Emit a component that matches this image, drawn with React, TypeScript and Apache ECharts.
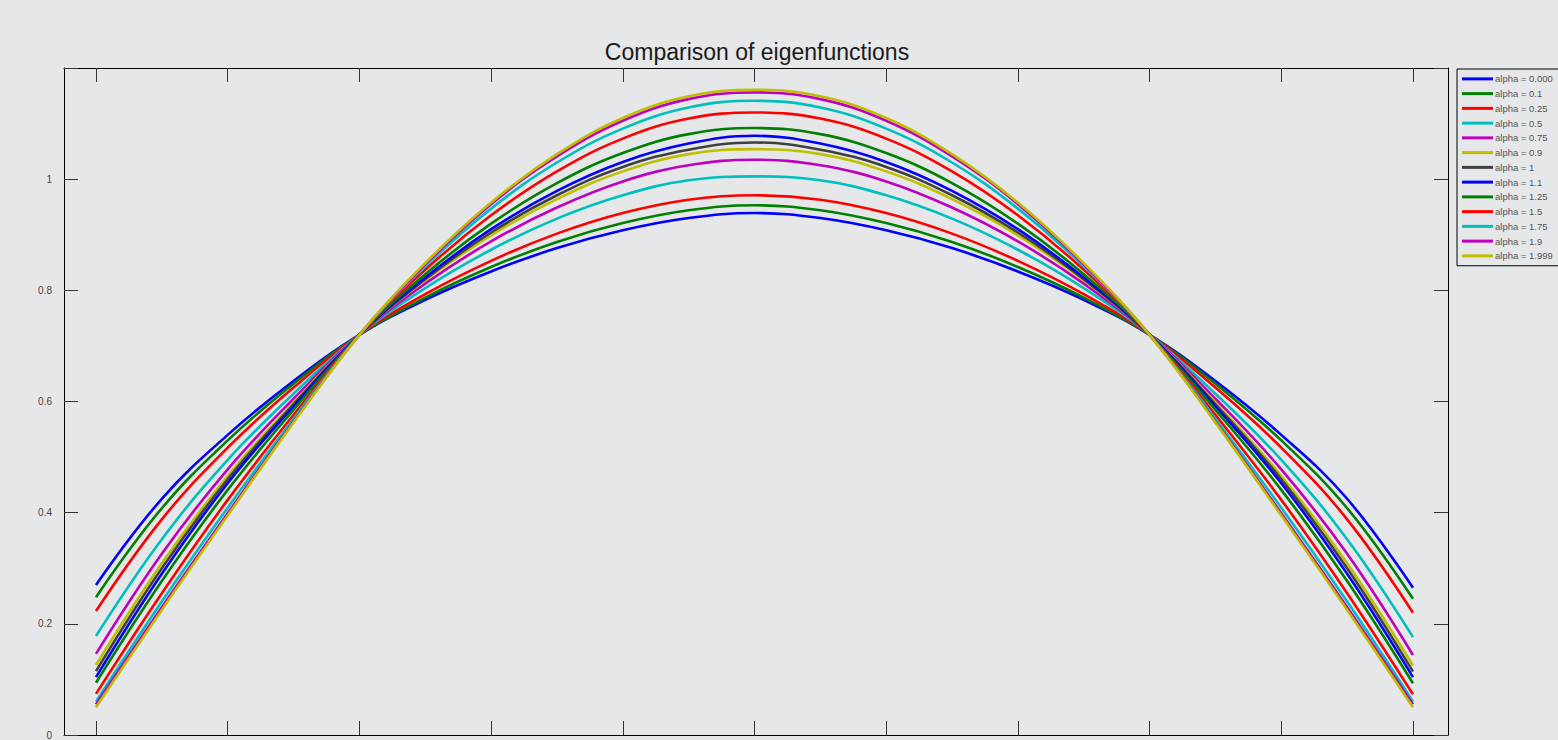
import React, { useEffect, useRef } from "react";
import * as echarts from "echarts";

const xs = [0, 0.05, 0.1, 0.15, 0.2, 0.25, 0.3, 0.35, 0.4, 0.45, 0.5, 0.55, 0.6, 0.65, 0.7, 0.75, 0.8, 0.85, 0.9, 0.95, 1];

const xTicks = [0, 0.1, 0.2, 0.3, 0.4, 0.5, 0.6, 0.7, 0.8, 0.9, 1];
const yTicks = [0, 0.2, 0.4, 0.6, 0.8, 1, 1.2];

const seriesNames = [
  "alpha = 0.000",
  "alpha = 0.1",
  "alpha = 0.25",
  "alpha = 0.5",
  "alpha = 0.75",
  "alpha = 0.9",
  "alpha = 1",
  "alpha = 1.1",
  "alpha = 1.25",
  "alpha = 1.5",
  "alpha = 1.75",
  "alpha = 1.9",
  "alpha = 1.999",
];

const colors = [
  "#0000ff", "#008000", "#ff0000", "#00bfbf", "#bf00bf", "#bfbf00", "#404040",
  "#0000ff", "#008000", "#ff0000", "#00bfbf", "#bf00bf", "#bfbf00",
];

const a0000 = [0.27, 0.425, 0.54, 0.637, 0.72, 0.783, 0.834, 0.876, 0.908, 0.93, 0.939, 0.93, 0.908, 0.876, 0.834, 0.783, 0.72, 0.637, 0.54, 0.425, 0.265];
const a0100 = [0.248, 0.408, 0.53, 0.632, 0.72, 0.787, 0.842, 0.887, 0.921, 0.944, 0.953, 0.944, 0.921, 0.887, 0.842, 0.787, 0.72, 0.632, 0.53, 0.408, 0.245];
const a0250 = [0.223, 0.388, 0.517, 0.625, 0.72, 0.793, 0.853, 0.902, 0.939, 0.963, 0.971, 0.963, 0.939, 0.902, 0.853, 0.793, 0.72, 0.625, 0.517, 0.388, 0.22];
const a0500 = [0.178, 0.352, 0.495, 0.614, 0.72, 0.804, 0.873, 0.929, 0.971, 0.998, 1.005, 0.998, 0.971, 0.929, 0.873, 0.804, 0.72, 0.614, 0.495, 0.352, 0.176];
const a0750 = [0.146, 0.326, 0.478, 0.605, 0.72, 0.812, 0.888, 0.949, 0.996, 1.025, 1.035, 1.025, 0.996, 0.949, 0.888, 0.812, 0.72, 0.605, 0.478, 0.326, 0.144];
const a0900 = [0.126, 0.309, 0.466, 0.598, 0.72, 0.818, 0.899, 0.964, 1.014, 1.045, 1.054, 1.045, 1.014, 0.964, 0.899, 0.818, 0.72, 0.598, 0.466, 0.309, 0.125];
const a1000 = [0.115, 0.3, 0.46, 0.595, 0.72, 0.82, 0.904, 0.971, 1.022, 1.053, 1.066, 1.053, 1.022, 0.971, 0.904, 0.82, 0.72, 0.595, 0.46, 0.3, 0.114];
const a1100 = [0.104, 0.29, 0.453, 0.591, 0.72, 0.823, 0.91, 0.979, 1.031, 1.064, 1.078, 1.064, 1.031, 0.979, 0.91, 0.823, 0.72, 0.591, 0.453, 0.29, 0.104];
const a1250 = [0.094, 0.277, 0.441, 0.585, 0.72, 0.829, 0.92, 0.993, 1.047, 1.081, 1.092, 1.081, 1.047, 0.993, 0.92, 0.829, 0.72, 0.585, 0.441, 0.277, 0.093];
const a1500 = [0.074, 0.255, 0.423, 0.576, 0.72, 0.837, 0.935, 1.014, 1.073, 1.109, 1.12, 1.109, 1.073, 1.014, 0.935, 0.837, 0.72, 0.576, 0.423, 0.255, 0.073];
const a1750 = [0.06, 0.24, 0.409, 0.569, 0.72, 0.843, 0.947, 1.03, 1.091, 1.129, 1.141, 1.129, 1.091, 1.03, 0.947, 0.843, 0.72, 0.569, 0.409, 0.24, 0.06];
const a1900 = [0.055, 0.23, 0.399, 0.564, 0.72, 0.847, 0.955, 1.041, 1.105, 1.144, 1.156, 1.144, 1.105, 1.041, 0.955, 0.847, 0.72, 0.564, 0.399, 0.23, 0.055];
const a1999 = [0.05, 0.225, 0.395, 0.562, 0.72, 0.849, 0.958, 1.045, 1.11, 1.149, 1.161, 1.149, 1.11, 1.045, 0.958, 0.849, 0.72, 0.562, 0.395, 0.225, 0.05];

const allValues = [a0000, a0100, a0250, a0500, a0750, a0900, a1000, a1100, a1250, a1500, a1750, a1900, a1999];

export default function App() {
  const ref = useRef<HTMLDivElement>(null);
  useEffect(() => {
    if (!ref.current) return;
    const chart = echarts.init(ref.current, undefined, { renderer: "svg" });
    const font = "Liberation Sans, Arial, sans-serif";
    const tickStyle = { inside: true, length: 14, lineStyle: { color: "#333", width: 1 } };
    const lineAxis = { show: true, onZero: false, lineStyle: { color: "#000", width: 1 } };
    const xBase = {
      type: "value",
      min: -0.0243,
      max: 1.0266,
      splitLine: { show: false },
      axisLine: lineAxis,
    };
    const yBase = {
      type: "value",
      min: yTicks[0],
      max: yTicks[yTicks.length - 1],
      interval: 0.2,
      splitLine: { show: false },
      axisLine: lineAxis,
      axisTick: tickStyle,
    };
    chart.setOption({
      animation: false,
      backgroundColor: "#e6e7e9",
      title: {
        text: "Comparison of eigenfunctions",
        left: 752,
        textAlign: "center",
        top: 35,
        textStyle: { fontSize: 23, fontWeight: "normal", color: "#1a1a1a", fontFamily: font },
      },
      legend: {
        orient: "vertical",
        left: 1457,
        top: 69,
        padding: [4, 20, 4, 5],
        borderColor: "#000",
        borderWidth: 1,
        itemWidth: 31,
        itemHeight: 3,
        itemGap: 3,
        icon: "rect",
        textStyle: { fontSize: 9.5, color: "#555", fontFamily: font, lineHeight: 11.75, padding: [0, 0, 0, -3] },
        data: seriesNames,
      },
      grid: { left: 64, right: 110, top: 68, bottom: 5, containLabel: false, outerBoundsMode: "none" },
      xAxis: [
        {
          ...xBase,
          position: "bottom",
          axisTick: { ...tickStyle, customValues: xTicks },
          axisLabel: { show: true, customValues: xTicks, margin: 4, fontSize: 10, color: "#444", fontFamily: font },
        },
        {
          ...xBase,
          position: "top",
          axisTick: { ...tickStyle, customValues: xTicks },
          axisLabel: { show: false, customValues: xTicks },
        },
      ],
      yAxis: [
        {
          ...yBase,
          position: "left",
          axisLabel: {
            margin: 12,
            fontSize: 10,
            color: "#444",
            fontFamily: font,
            formatter: (v: number) => (v > 1.1 ? "" : String(Math.round(v * 10) / 10)),
          },
        },
        {
          ...yBase,
          position: "right",
          axisLabel: { show: false },
        },
      ],
      series: allValues.map((vals, i) => ({
        name: seriesNames[i],
        type: "line",
        xAxisIndex: 0,
        yAxisIndex: 0,
        data: xs.map((x, j) => [x, vals[j]]),
        smooth: 0.4,
        showSymbol: false,
        symbol: "none",
        lineStyle: { width: 2.6, color: colors[i] },
        itemStyle: { color: colors[i] },
      })),
    });
    return () => chart.dispose();
  }, []);
  return (
    <div
      ref={ref}
      style={{ position: "fixed", left: 0, top: 0, width: 1558, height: 740 }}
    />
  );
}
